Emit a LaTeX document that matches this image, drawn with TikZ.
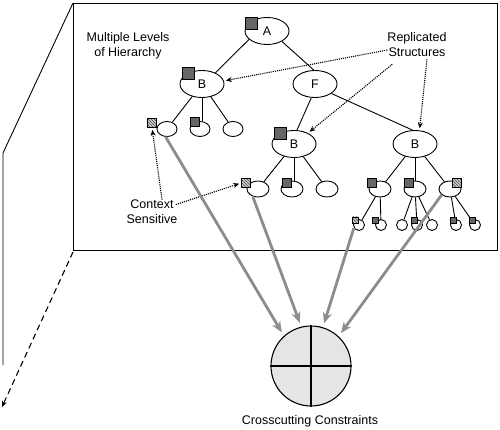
\documentclass[tikz,border=0pt]{standalone}
\usepackage{fontspec}
\setmainfont{Liberation Sans}
\usetikzlibrary{shapes.geometric,arrows.meta,patterns,calc}
\begin{document}
\begin{tikzpicture}[x=1pt,y=-1pt,
  every node/.style={font=\fontsize{12.5}{15}\selectfont},
  tline/.style={line width=0.9pt},
  bigell/.style={draw,ellipse,line width=0.9pt,minimum width=44pt,minimum height=27pt,inner sep=0pt},
  kidell/.style={draw,ellipse,line width=0.9pt,minimum width=22pt,minimum height=16pt,inner sep=0pt},
  smallell/.style={draw,ellipse,line width=0.9pt,minimum width=20pt,minimum height=15pt,inner sep=0pt},
  gcirc/.style={draw,circle,line width=0.9pt,minimum size=11pt,inner sep=0pt},
  sqL/.style={draw,line width=0.8pt,fill=black!60,minimum size=12pt,inner sep=0pt},
  sqM/.style={draw,line width=0.7pt,fill=black!60,minimum size=9pt,inner sep=0pt},
  sqS/.style={draw,line width=0.6pt,fill=black!60,minimum size=6pt,inner sep=0pt},
  hatch/.style={preaction={fill=black!20},pattern=north west lines,pattern color=black!70},
  dotarrow/.style={densely dotted,line width=1.1pt,-{Stealth[length=6pt,width=5pt]},shorten >=2pt},
  grayarrow/.style={draw=black!45,line width=2.8pt,-{Stealth[length=11pt,width=9pt]},shorten >=4pt},
  frameline/.style={line width=0.9pt}
]
\useasboundingbox (0,0) rectangle (500,430);

% frame
\coordinate (ftl) at (73,3);
\coordinate (ftr) at (497,3);
\coordinate (fbr) at (497,250);
\coordinate (fbl) at (73,250);
\coordinate (lt) at (3,153);
\coordinate (lb) at (3,365);
\coordinate (dend) at (2,407);
\draw[frameline] (ftl) -- (ftr) -- (fbr) -- (fbl) -- cycle;
\draw[frameline] (ftl) -- (lt) -- (lb);
\draw[line width=1.1pt,dash pattern=on 6pt off 4pt,-{Stealth[length=6pt,width=5pt]}] ([yshift=-2pt]fbl) -- (dend);

% texts
\node[align=center] (mlh) at (128,45.5) {Multiple Levels\\of Hierarchy};
\node[align=center,inner sep=2pt] (rep) at (417,45) {Replicated\\Structures};
\node[align=center] (ctx) at (152,212) {Context\\Sensitive};
\node (cclabel) at (310,421) {Crosscutting Constraints};

% main ellipses
\node[bigell] (A) at (267,31) {A};
\node[bigell] (B) at (202,84) {B};
\node[bigell] (F) at (315,84) {F};
\node[bigell] (mB) at (294,144) {B};
\node[bigell] (rB) at (415,144) {B};

% children
\node[smallell] (c1) at (167,129) {};
\node[smallell] (c2) at (200,129) {};
\node[smallell] (c3) at (233,129) {};
\node[kidell] (m1) at (258,189) {};
\node[kidell] (m2) at (292,189) {};
\node[kidell] (m3) at (327,189) {};
\node[kidell] (r1) at (380,189) {};
\node[kidell] (r2) at (415,189) {};
\node[kidell] (r3) at (450,189) {};

% grandchildren
\node[gcirc] (r1a) at (359,225) {};
\node[gcirc] (r1b) at (381,225) {};
\node[gcirc] (r2a) at (402,225) {};
\node[gcirc] (r2b) at (417,225) {};
\node[gcirc] (r2c) at (432,225) {};
\node[gcirc] (r3a) at (456,225) {};
\node[gcirc] (r3b) at (475,225) {};

% tree lines
\draw[tline] (A.205) -- (B.40);
\draw[tline] (A.-35) -- (F.95);
\draw[tline] (B) -- (c1);
\draw[tline] (B.south) -- (B.south |- c2.north);
\draw[tline] (B) -- (c3);
\draw[tline] (F.255) -- (mB.78);
\draw[tline] (F.-30) -- (rB.100);
\draw[tline] (mB) -- (m1);
\draw[tline] (mB.south) -- (mB.south |- m2.north);
\draw[tline] (mB) -- (m3);
\draw[tline] (rB) -- (r1);
\draw[tline] (rB) -- (r2);
\draw[tline] (rB) -- (r3);
\draw[tline] (r1) -- (r1a);
\draw[tline] (r1) -- (r1b);
\draw[tline] (r2) -- (r2a);
\draw[tline] (r2) -- (r2b);
\draw[tline] (r2) -- (r2c);
\draw[tline] (r3) -- (r3a);
\draw[tline] (r3) -- (r3b);

% squares
\node[sqL] (sA) at (251,23) {};
\node[sqL] (sB) at (188,73) {};
\node[sqL] (smB) at (280,133) {};
\node[sqM,hatch] (sc1) at (152,123) {};
\node[sqM] (sc2) at (195,122) {};
\node[sqM,hatch] (sm1) at (246,183) {};
\node[sqM] (sm2) at (287,183) {};
\node[sqM] (sr1) at (372,183) {};
\node[sqM] (sr2) at (409,183) {};
\node[sqM,hatch] (sr3) at (457,183) {};
\node[sqS,hatch] (sr1a) at (355,220) {};
\node[sqS] (sr1b) at (375.5,220) {};
\node[sqS] (sr2b) at (414.5,220) {};
\node[sqS] (sr3a) at (453,220) {};
\node[sqS] (sr3b) at (472,220) {};

% dotted arrows
\draw[dotarrow] ($(rep.west)+(2,5)$) -- (B.8);
\draw[dotarrow] ($(rep.south west)+(7,5)$) -- (mB.38);
\draw[dotarrow] ($(rep.south)+(10,0)$) -- (rB.72);
\draw[dotarrow] ($(ctx.north)+(10,3)$) -- (sc1.south);
\draw[dotarrow] ($(ctx.north east)+(-5,8)$) -- (sm1.west);

% crosscutting circle
\node[draw,circle,fill=black!10,minimum size=80pt,inner sep=0pt,line width=1.1pt] (cc) at (311,366) {};
\draw[line width=1.1pt] (cc.north) -- (cc.south);
\draw[line width=1.1pt] (cc.west) -- (cc.east);

% gray arrows
\draw[grayarrow] (c1.-100) -- (cc.132);
\draw[grayarrow] (m1.235) -- (cc.104);
\draw[grayarrow] (r1a.210) -- (cc.73);
\draw[grayarrow] (r3.215) -- (cc.47);
\end{tikzpicture}
\end{document}
